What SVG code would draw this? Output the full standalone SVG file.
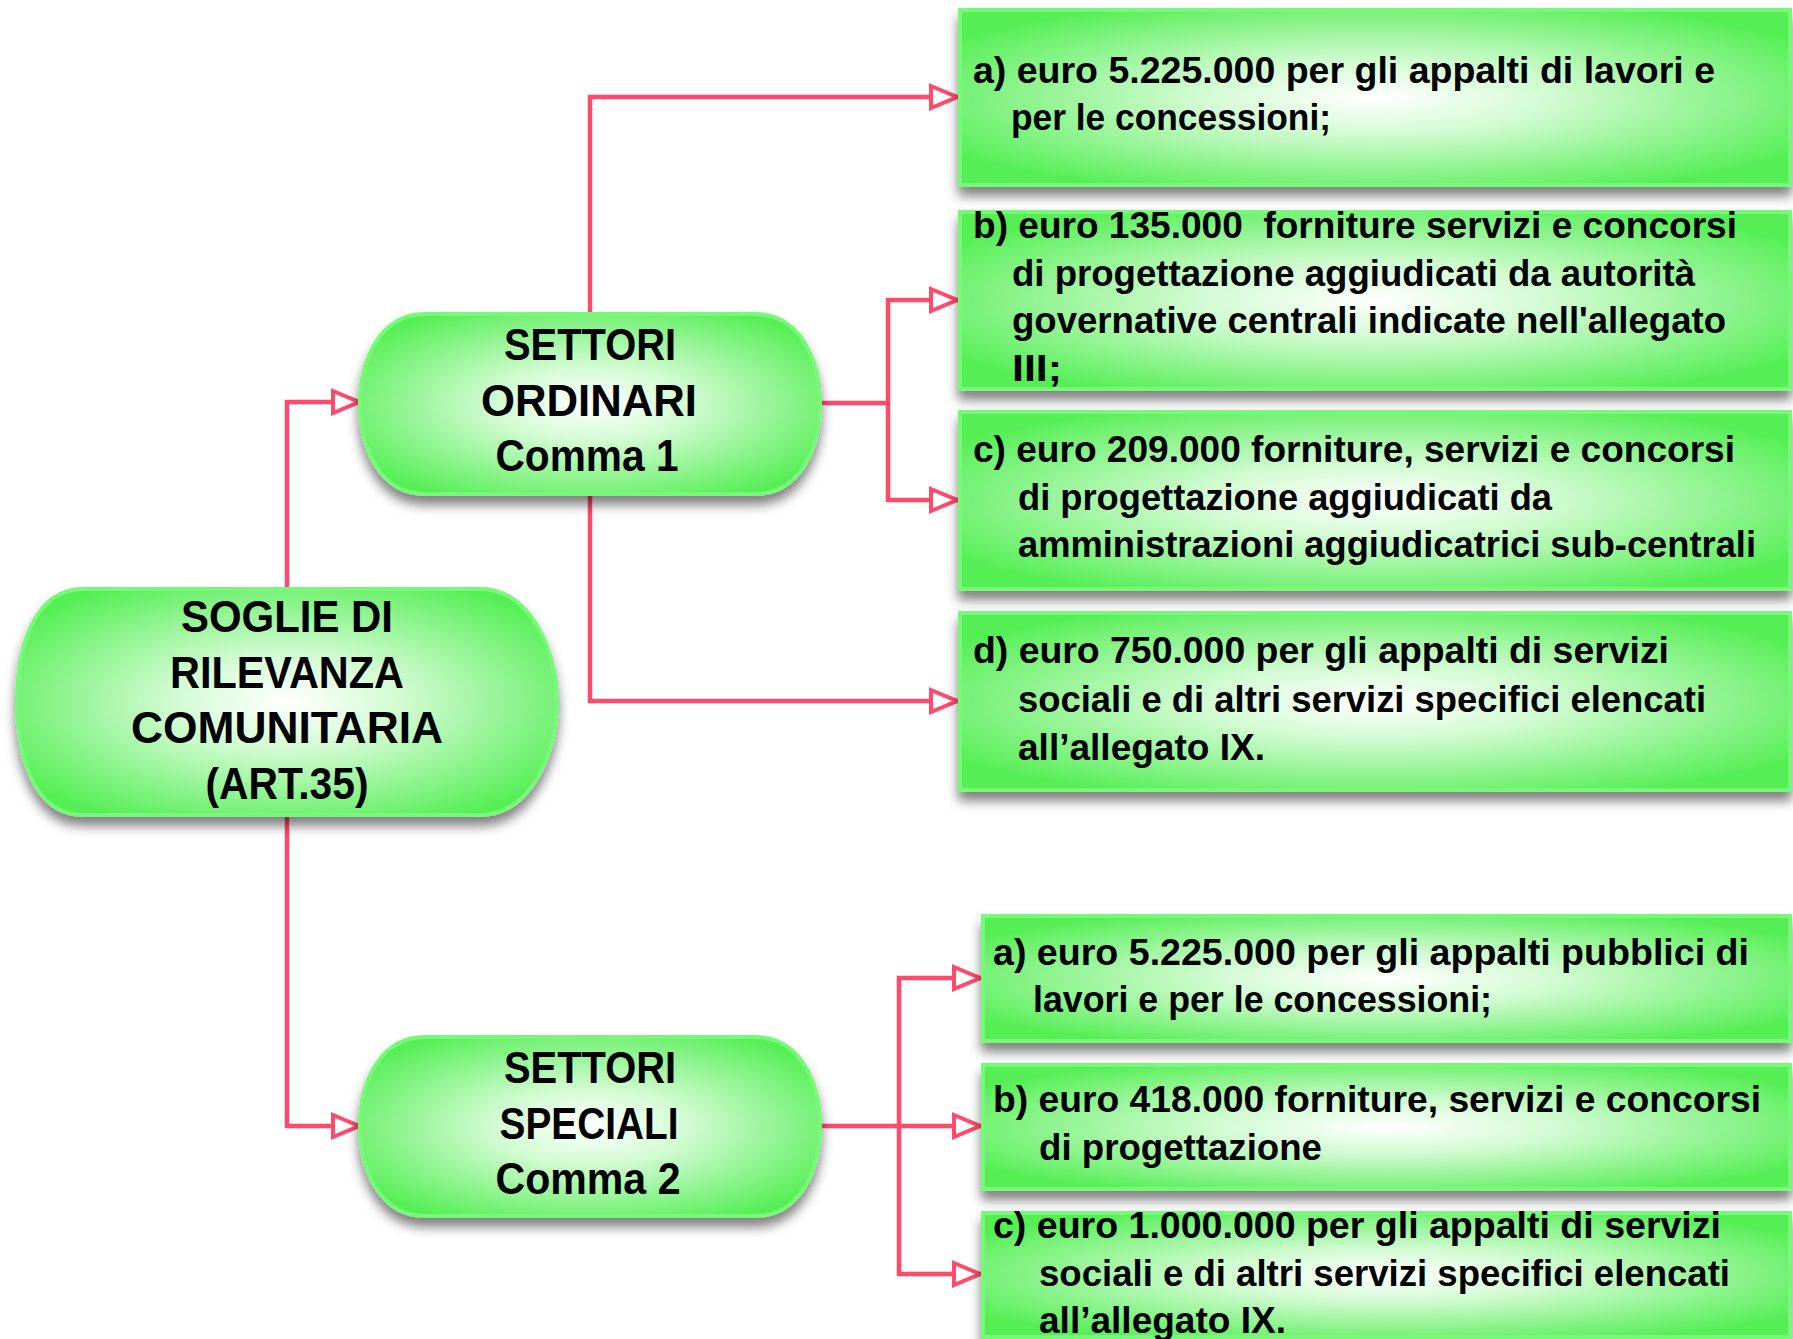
<svg xmlns="http://www.w3.org/2000/svg" width="1793" height="1339" viewBox="0 0 1793 1339">
<defs>
<radialGradient id="g" cx="0.5" cy="0.5" r="0.6">
<stop offset="0" stop-color="#ffffff"/>
<stop offset="0.35" stop-color="#d2fbd2"/>
<stop offset="1" stop-color="#55ee55"/>
</radialGradient>
<filter id="sh" x="-10%" y="-20%" width="120%" height="150%">
<feDropShadow dx="0" dy="9" stdDeviation="6" flood-color="#000" flood-opacity="0.5"/>
</filter>
<marker id="ar" viewBox="0 0 32 28" refX="30" refY="14" markerWidth="32" markerHeight="28" markerUnits="userSpaceOnUse" orient="auto">
<path d="M3,3 L29,14 L3,25 Z" fill="#ffffff" stroke="#ff4a6b" stroke-width="4" stroke-linejoin="miter"/>
</marker>
</defs>
<style>
.shape{fill:url(#g);stroke:#78f878;stroke-width:4;filter:url(#sh)}
.nt{font-family:"Liberation Sans",Arial,sans-serif;font-weight:bold;font-size:44px;fill:#000;text-anchor:middle}
.bt{font-family:"Liberation Sans",Arial,sans-serif;font-weight:bold;font-size:37px;fill:#000;white-space:pre}
.c{fill:none;stroke:#ff4a6b;stroke-width:4.5;stroke-linejoin:miter}
</style>
<rect width="1793" height="1339" fill="#ffffff"/>

<g id="connectors">
<path class="c" d="M287,588 V402 H360" marker-end="url(#ar)"/>
<path class="c" d="M287,816 V1126 H360" marker-end="url(#ar)"/>
<path class="c" d="M590,314 V97 H958" marker-end="url(#ar)"/>
<path class="c" d="M820,403 H888 V300 H958" marker-end="url(#ar)"/>
<path class="c" d="M888,403 V500 H958" marker-end="url(#ar)"/>
<path class="c" d="M590,494 V701 H958" marker-end="url(#ar)"/>
<path class="c" d="M820,1126 H899 V978 H981" marker-end="url(#ar)"/>
<path class="c" d="M899,1126 H981" marker-end="url(#ar)"/>
<path class="c" d="M899,1126 V1274 H981" marker-end="url(#ar)"/>
</g>

<g id="root">
<path class="shape" d="M83,589 L480,589 C530,589 557,650 557,702 C557,754 530,815 480,815 L83,815 C33,815 17,754 17,702 C17,650 33,589 83,589 Z"/>
<text class="nt" x="287" y="632" textLength="212" lengthAdjust="spacingAndGlyphs">SOGLIE DI</text>
<text class="nt" x="287" y="688" textLength="234" lengthAdjust="spacingAndGlyphs">RILEVANZA</text>
<text class="nt" x="287" y="743" textLength="312" lengthAdjust="spacingAndGlyphs">COMUNITARIA</text>
<text class="nt" x="287" y="799" textLength="163" lengthAdjust="spacingAndGlyphs">(ART.35)</text>
</g>

<g id="ordinari">
<path class="shape" d="M425,314 L755,314 C800,314 820,360 820,404 C820,448 800,494 755,494 L425,494 C380,494 360,448 360,404 C360,360 380,314 425,314 Z"/>
<text class="nt" x="590" y="360" textLength="172" lengthAdjust="spacingAndGlyphs">SETTORI</text>
<text class="nt" x="589" y="416" textLength="216" lengthAdjust="spacingAndGlyphs">ORDINARI</text>
<text class="nt" x="587" y="471" textLength="183" lengthAdjust="spacingAndGlyphs">Comma 1</text>
</g>

<g id="speciali">
<path class="shape" d="M425,1037 L755,1037 C800,1037 820,1082 820,1126 C820,1170 800,1216 755,1216 L425,1216 C380,1216 360,1170 360,1126 C360,1082 380,1037 425,1037 Z"/>
<text class="nt" x="590" y="1083" textLength="172" lengthAdjust="spacingAndGlyphs">SETTORI</text>
<text class="nt" x="589" y="1139" textLength="179" lengthAdjust="spacingAndGlyphs">SPECIALI</text>
<text class="nt" x="588" y="1194" textLength="185" lengthAdjust="spacingAndGlyphs">Comma 2</text>
</g>

<g id="ord-a">
<rect class="shape" x="960" y="10" width="830" height="175"/>
<text class="bt" x="973" y="83" textLength="742" lengthAdjust="spacingAndGlyphs">a) euro 5.225.000 per gli appalti di lavori e</text>
<text class="bt" x="1011" y="130" textLength="320" lengthAdjust="spacingAndGlyphs">per le concessioni;</text>
</g>

<g id="ord-b">
<rect class="shape" x="960" y="212" width="830" height="177"/>
<text class="bt" x="973" y="238" textLength="764" lengthAdjust="spacingAndGlyphs" xml:space="preserve">b) euro 135.000  forniture servizi e concorsi</text>
<text class="bt" x="1012" y="286" textLength="683" lengthAdjust="spacingAndGlyphs">di progettazione aggiudicati da autorità</text>
<text class="bt" x="1012" y="333" textLength="714" lengthAdjust="spacingAndGlyphs">governative centrali indicate nell'allegato</text>
<text class="bt" x="1012" y="381" textLength="50" lengthAdjust="spacingAndGlyphs">III;</text>
</g>

<g id="ord-c">
<rect class="shape" x="960" y="412" width="830" height="177"/>
<text class="bt" x="973" y="462" textLength="762" lengthAdjust="spacingAndGlyphs">c) euro 209.000 forniture, servizi e concorsi</text>
<text class="bt" x="1018" y="510" textLength="534" lengthAdjust="spacingAndGlyphs">di progettazione aggiudicati da</text>
<text class="bt" x="1018" y="557" textLength="738" lengthAdjust="spacingAndGlyphs">amministrazioni aggiudicatrici sub-centrali</text>
</g>

<g id="ord-d">
<rect class="shape" x="960" y="613" width="830" height="177"/>
<text class="bt" x="973" y="663" textLength="696" lengthAdjust="spacingAndGlyphs">d) euro 750.000 per gli appalti di servizi</text>
<text class="bt" x="1018" y="712" textLength="688" lengthAdjust="spacingAndGlyphs">sociali e di altri servizi specifici elencati</text>
<text class="bt" x="1018" y="760" textLength="247" lengthAdjust="spacingAndGlyphs">all’allegato IX.</text>
</g>

<g id="spe-a">
<rect class="shape" x="983" y="916" width="807" height="125"/>
<text class="bt" x="993" y="965" textLength="756" lengthAdjust="spacingAndGlyphs">a) euro 5.225.000 per gli appalti pubblici di</text>
<text class="bt" x="1033" y="1012" textLength="459" lengthAdjust="spacingAndGlyphs">lavori e per le concessioni;</text>
</g>

<g id="spe-b">
<rect class="shape" x="983" y="1065" width="807" height="124"/>
<text class="bt" x="993" y="1112" textLength="768" lengthAdjust="spacingAndGlyphs">b) euro 418.000 forniture, servizi e concorsi</text>
<text class="bt" x="1039" y="1160" textLength="283" lengthAdjust="spacingAndGlyphs">di progettazione</text>
</g>

<g id="spe-c">
<rect class="shape" x="983" y="1213" width="807" height="124"/>
<text class="bt" x="993" y="1238" textLength="728" lengthAdjust="spacingAndGlyphs">c) euro 1.000.000 per gli appalti di servizi</text>
<text class="bt" x="1039" y="1286" textLength="691" lengthAdjust="spacingAndGlyphs">sociali e di altri servizi specifici elencati</text>
<text class="bt" x="1039" y="1333" textLength="247" lengthAdjust="spacingAndGlyphs">all’allegato IX.</text>
</g>
</svg>
